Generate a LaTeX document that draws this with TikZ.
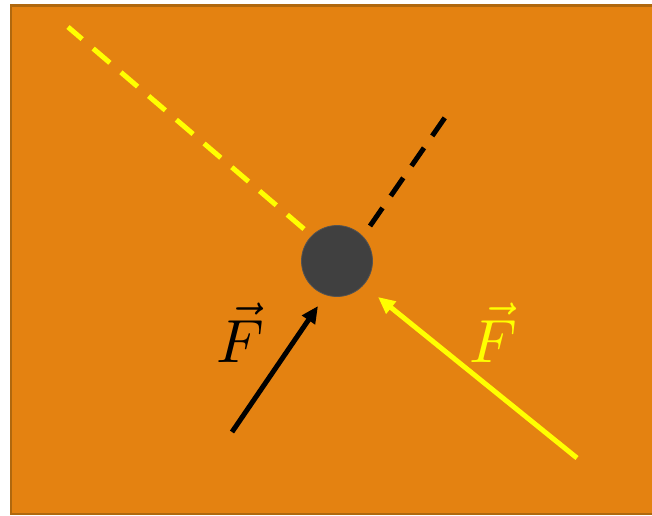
\documentclass[tikz,border=0pt]{standalone}
\usepackage{graphicx}
\usetikzlibrary{arrows.meta}
\definecolor{bgorange}{HTML}{E48211}
\definecolor{bgborder}{HTML}{B0680E}
\definecolor{ballgray}{HTML}{404040}
\definecolor{fyellow}{HTML}{FFFF00}
\tikzset{
  dashline/.style={line width=5pt, dash pattern=on 22pt off 14.5pt},
  forcearrow/.style={line width=5pt, -{Triangle[length=17pt,width=15pt]}},
  flabel/.style={inner sep=0pt}
}
\newcommand{\bigvecF}{\scalebox{6.1}{$\vec{F}$}}
\begin{document}
\begin{tikzpicture}[x=1pt,y=-1pt]
\useasboundingbox (0,0) rectangle (652,515);
\draw[fill=bgorange, draw=bgborder, line width=2.5pt] (11,5.5) rectangle (662,514);
\node[circle, fill=ballgray, draw=ballgray!90!white, line width=0.8pt, minimum size=71pt, inner sep=0pt] (ball) at (337,261) {};
\coordinate (ydashA) at (304,229);
\coordinate (ydashB) at (68,27);
\coordinate (bdashA) at (370,226);
\coordinate (bdashB) at (446,116);
\coordinate (btail) at (232,432);
\coordinate (btip) at (318,306);
\coordinate (ytail) at (577,458);
\coordinate (ytip) at (378,297);
\draw[dashline, fyellow] (ydashA) -- (ydashB);
\draw[dashline, black] (bdashA) -- (bdashB);
\draw[forcearrow, black] (btail) -- (btip);
\draw[forcearrow, fyellow] (ytail) -- (ytip);
\node[flabel, text=black, anchor=base] (fblack) at (240,362) {\bigvecF};
\node[flabel, text=fyellow, anchor=base] (fyel) at (493,362) {\bigvecF};
\end{tikzpicture}
\end{document}
